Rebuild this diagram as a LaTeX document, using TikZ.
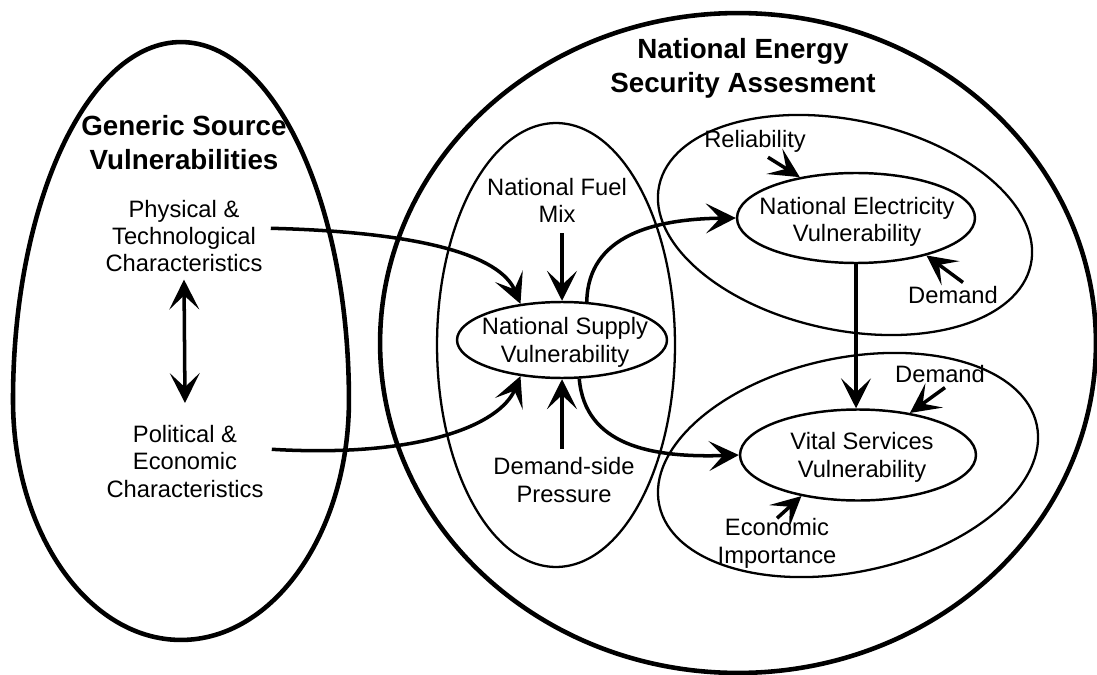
\documentclass[tikz,border=0pt]{standalone}
\usepackage{fontspec}
\setmainfont{Liberation Sans}
\usetikzlibrary{arrows.meta,shapes.geometric,calc}
\begin{document}
\begin{tikzpicture}[x=0.02cm,y=-0.02cm,
  lbl/.style={font=\fontsize{13.5}{15.5}\selectfont, align=center, inner sep=0pt},
  ttl/.style={font=\fontsize{15.8}{19.8}\selectfont\bfseries, align=center, inner sep=0pt},
  big/.style={draw, line width=2.6pt},
  region/.style={draw, line width=1.3pt},
  core/.style={draw, ellipse, line width=1.4pt, inner sep=0pt},
  arr/.style={line width=2pt, -{Stealth[length=17pt,width=17pt,inset=8pt]}},
  dbl/.style={line width=2pt, {Stealth[length=17pt,width=17pt,inset=8pt]}-{Stealth[length=17pt,width=17pt,inset=8pt]}},
]
\useasboundingbox (0,0) rectangle (1097,675);
% containers
\draw[big] (13,400) arc[start angle=180,end angle=0,x radius=3.36cm,y radius=7.16cm]
               arc[start angle=0,end angle=-180,x radius=3.36cm,y radius=4.8cm] -- cycle;
\draw[big] (738,343) ellipse[x radius=7.16cm, y radius=6.6cm];
\draw[region] (556,345) ellipse[x radius=2.38cm, y radius=4.44cm];
\draw[region, rotate around={-12:(845,225)}] (845,225) ellipse[x radius=3.8cm, y radius=2.1cm];
\draw[region, rotate around={12:(848,465)}] (848,465) ellipse[x radius=3.86cm, y radius=2.14cm];
% core ellipses
\node[core, minimum width=4.2cm, minimum height=1.52cm] (supply) at (562,340) {};
\node[core, minimum width=4.76cm, minimum height=1.8cm] (elec) at (856,218) {};
\node[core, minimum width=4.72cm, minimum height=1.82cm] (vital) at (858,455) {};
% titles (base = baseline of last line)
\node[ttl, anchor=base] (gtitle) at (184,170) {Generic Source\\Vulnerabilities};
\node[ttl, anchor=base] (ntitle) at (743,93) {National Energy\\Security Assesment};
% labels
\node[lbl, anchor=base] (phys) at (184,272) {Physical \&\\Technological\\Characteristics};
\node[lbl, anchor=base] (pol) at (185,497) {Political \&\\Economic\\Characteristics};
\node[lbl, anchor=base] (fuel) at (557,223) {National Fuel\\Mix};
\node[lbl, anchor=base] (supplytext) at (565,362) {National Supply\\Vulnerability};
\node[lbl, anchor=base] (demside) at (564,502) {Demand-side\\Pressure};
\node[lbl, anchor=base] (reli) at (755,148) {Reliability};
\node[lbl, anchor=base] (electext) at (857,242) {National Electricity\\Vulnerability};
\node[lbl, anchor=base] (dem1) at (953,303) {Demand};
\node[lbl, anchor=base] (dem2) at (940,382) {Demand};
\node[lbl, anchor=base] (vitaltext) at (862,477) {Vital Services\\Vulnerability};
\node[lbl, anchor=base] (econ) at (777,563) {Economic\\Importance};
% connectors
\draw[dbl] ($(phys.south)+(0,7)$) -- ($(pol.north)+(0,-22)$);
\draw[arr] ($(phys.east)+(8,-8)$) .. controls (420,232) and (500,255) .. (supply.139);
\draw[arr] ($(pol.east)+(8,-12)$) .. controls (420,458) and (500,425) .. (supply.-139);
\draw[arr] (fuel.south -| supply.north) ++(0,10) -- (supply.north);
\draw[arr] (demside.north -| supply.south) ++(0,-8) -- (supply.south);
\draw[arr] (supply.57) .. controls (588,235) and (655,219) .. (elec.west);
\draw[arr] (supply.-66) .. controls (585,445) and (650,458) .. (vital.west);
\draw[arr] (elec.south) -- (elec.south |- vital.north);
\draw[arr] ($(reli.south)+(13,4)$) -- (elec.144);
\draw[arr] ($(dem1.north)+(10,-3)$) -- (elec.-28);
\draw[arr] ($(dem2.south)+(5,5)$) -- (vital.39);
\draw[arr] (econ.north) -- (vital.216);
\end{tikzpicture}
\end{document}
